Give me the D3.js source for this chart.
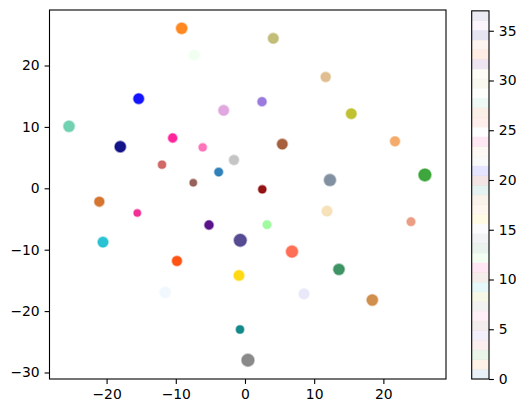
<!DOCTYPE html>
<html><head><meta charset="utf-8">
<script src="https://cdn.jsdelivr.net/npm/d3@7"></script>
<style>body{margin:0;background:#fff}text{font-family:"DejaVu Sans",sans-serif}</style>
</head><body>
<script>
// color index order (colormap order)
const colorNames = ["#1f77b4","#ff7f0e","#2ca02c","indianred","mediumpurple","#8c564b","hotpink","gray","#bcbd22","#17becf",
  "sienna","deeppink","palegreen","seagreen","lightslategray","lavender","gold","sandybrown","peru","teal",
  "darkred","blue","silver","burlywood","#f0208c","aliceblue","tomato","chocolate","mediumaquamarine","honeydew",
  "darkkhaki","wheat","indigo","orangered","darksalmon","navy","plum","darkslateblue"];
const colorIndex = [0,1,2,3,4,5,6,7,8,9,10,11,12,13,14,15,16,17,18,19,20,21,22,23,24,25,26,27,28,29,30,31,32,33,34,35,36,37];
// point positions per color index
const xValues = [-3.8,-9.15,26.0,-11.99,2.46,-7.47,-6.11,0.43,15.36,-20.52,
  5.39,-10.45,3.18,13.58,12.28,8.53,-0.87,21.68,18.4,-0.72,
  2.5,-15.36,-1.59,11.66,-15.56,-11.52,6.79,-21.05,-25.43,-7.33,
  4.09,11.85,-5.2,-9.83,23.99,-18.02,-3.08,-0.68];
const yValues = [2.65,26.06,2.17,3.84,14.1,0.91,6.68,-28.0,12.15,-8.75,
  7.21,8.19,-5.93,-13.2,1.35,-17.2,-14.2,7.65,-18.2,-23.0,
  -0.16,14.59,4.61,18.13,-4.02,-16.94,-10.3,-2.18,10.1,21.7,
  24.43,-3.7,-5.98,-11.84,-5.44,6.78,12.7,-8.47];
const sizeValues = [50,80,100,45,55,38,45,100,72,72,
  72,55,50,80,90,72,72,64,80,45,
  45,72,64,64,38,80,90,64,80,72,
  72,72,55,64,50,80,72,100];
const xTicks = [-20,-10,0,10,20];
const yTicks = [-30,-20,-10,0,10,20];
const cbTicks = [0,5,10,15,20,25,30,35];

const W=526,H=413;
const svg=d3.select("body").append("svg").attr("width",W).attr("height",H);
const L=49.5,R=446,T=10,B=379;
const x=d3.scaleLinear().domain([-28.25,29.05]).range([L,R]);
const y=d3.scaleLinear().domain([-31.06,29.04]).range([B,T]);
const rS=d3.scaleSqrt().domain([0,100]).range([0,7]);

const pts=colorIndex.map((c,i)=>({c,x:xValues[i],y:yValues[i],s:sizeValues[i]}));
const g=svg.append("g");
g.selectAll("circle").data(pts).join("circle")
  .attr("cx",d=>x(d.x)).attr("cy",d=>y(d.y)).attr("r",d=>rS(d.s)-0.8)
  .attr("fill",d=>colorNames[d.c]).attr("fill-opacity",0.92)
  .attr("stroke",d=>colorNames[d.c]).attr("stroke-opacity",0.4).attr("stroke-width",1.8);

const fs="13.9px";
const xa=svg.append("g").attr("transform",`translate(0,${B})`)
  .call(d3.axisBottom(x).tickValues(xTicks).tickSize(4.9).tickPadding(4.9));
const ya=svg.append("g").attr("transform",`translate(${L},0)`)
  .call(d3.axisLeft(y).tickValues(yTicks).tickSize(4.9).tickPadding(4.9));
[xa,ya].forEach(a=>{a.select(".domain").remove();a.selectAll("text").attr("font-size",fs).attr("fill","#000").attr("font-family","DejaVu Sans");a.selectAll("line").attr("stroke","#000").attr("stroke-width",1.1);});
svg.append("rect").attr("x",L).attr("y",T).attr("width",R-L).attr("height",B-T)
  .attr("fill","none").attr("stroke","#000").attr("stroke-width",1.1);

// colorbar
const CL=471.7,CR=489,CT=10.85,CB=379;
const cy=d3.scaleLinear().domain([0,37]).range([CB,CT]);
const n=colorNames.length, bh=(CB-CT)/n;
svg.append("g").selectAll("rect").data(colorNames).join("rect")
  .attr("x",CL).attr("width",CR-CL)
  .attr("y",(d,i)=>CB-(i+1)*bh).attr("height",bh+0.3)
  .attr("fill",d=>d).attr("fill-opacity",0.1);
const ca=svg.append("g").attr("transform",`translate(${CR},0)`)
  .call(d3.axisRight(cy).tickValues(cbTicks).tickFormat(d3.format("d")).tickSize(4.9).tickPadding(4.9));
ca.select(".domain").remove();
ca.selectAll("text").attr("font-size",fs).attr("fill","#000").attr("font-family","DejaVu Sans");
ca.selectAll("line").attr("stroke","#000").attr("stroke-width",1.1);
svg.append("rect").attr("x",CL).attr("y",CT).attr("width",CR-CL).attr("height",CB-CT)
  .attr("fill","none").attr("stroke","#000").attr("stroke-width",1.1);
</script>
</body></html>
